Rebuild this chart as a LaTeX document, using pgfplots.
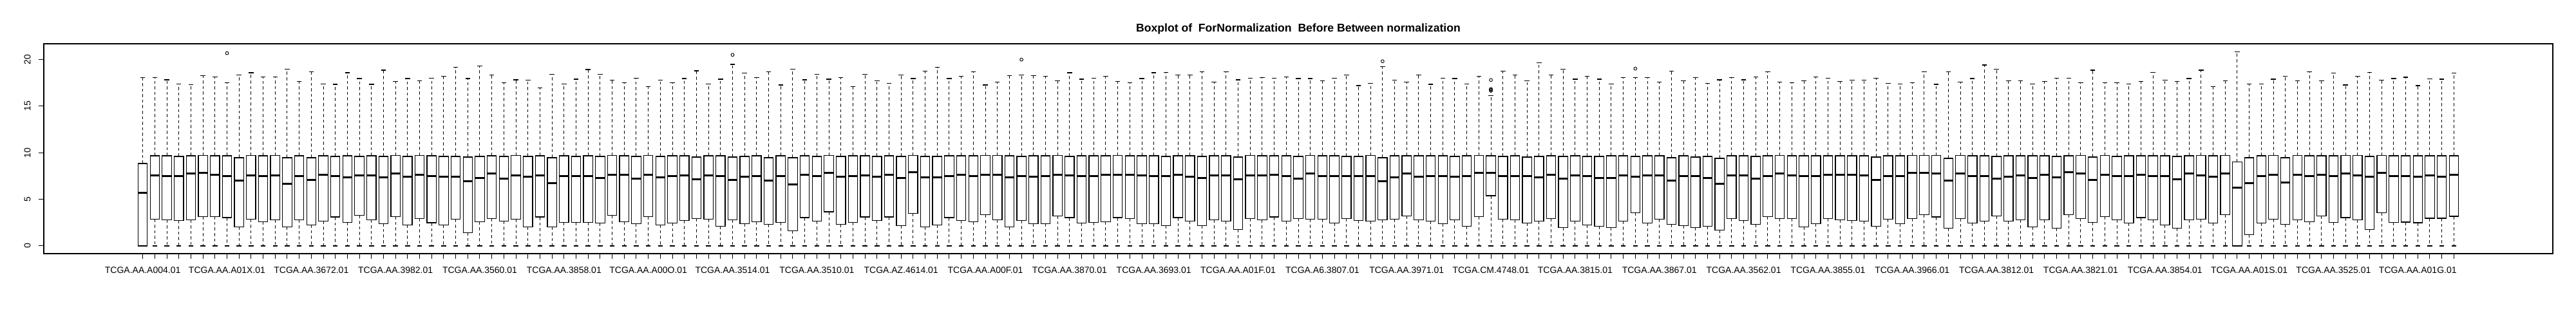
\documentclass[border=0pt]{standalone}
\usepackage{fontspec}
\setmainfont{Liberation Sans}
\usepackage{graphicx}
\usepackage{pgfplots}
\usepackage{pgfplotstable}
\pgfplotsset{compat=1.18}
\usepgfplotslibrary{statistics}

\pgfplotstableread{
k q1 med q3 uw lw
1 0 5.69 8.85 18.06 0
2 2.88 7.60 9.68 18.06 0
3 2.81 7.53 9.68 17.83 0
4 2.74 7.47 9.61 17.40 0
5 2.81 7.74 9.68 17.30 0
6 3.16 7.81 9.72 18.29 0
7 3.16 7.67 9.68 18.16 0
8 3.04 7.47 9.68 17.53 0
9 2.05 6.98 9.47 18.36 0
10 2.88 7.60 9.72 18.59 0
11 2.60 7.47 9.68 18.16 0
12 2.81 7.60 9.72 18.16 0
13 2.05 6.68 9.47 18.99 0
14 2.81 7.53 9.68 17.67 0
15 2.26 7.05 9.47 18.71 0
16 2.67 7.67 9.68 17.40 0
17 3.11 7.53 9.61 17.35 0
18 2.53 7.33 9.68 18.59 0
19 3.29 7.60 9.61 17.97 0
20 2.81 7.60 9.68 17.35 0
21 2.40 7.33 9.61 18.87 0
22 3.16 7.74 9.72 17.67 0
23 2.26 7.40 9.61 17.97 0
24 2.95 7.67 9.72 17.72 0
25 2.49 7.47 9.68 18.02 0
26 2.26 7.40 9.61 18.23 0
27 2.88 7.40 9.61 19.15 0
28 1.43 6.91 9.54 17.97 0
29 2.60 7.26 9.61 19.29 0
30 2.95 7.74 9.68 18.36 0
31 2.67 7.19 9.61 17.53 0
32 2.88 7.60 9.72 17.83 0
33 2.05 7.40 9.61 17.81 0
34 3.11 7.60 9.68 16.98 0
35 2.05 6.77 9.47 18.43 0
36 2.53 7.47 9.68 17.40 0
37 2.53 7.47 9.61 17.90 0
38 2.53 7.47 9.68 18.94 0
39 2.47 7.26 9.61 18.43 0
40 3.29 7.67 9.72 17.81 0
41 2.60 7.67 9.68 17.53 0
42 2.40 7.19 9.61 18.02 0
43 3.16 7.67 9.72 17.12 0
44 2.26 7.33 9.61 17.81 0
45 2.47 7.47 9.68 17.53 0
46 2.74 7.60 9.68 17.97 0
47 2.95 7.12 9.54 18.80 0
48 2.88 7.60 9.68 17.40 0
49 2.12 7.47 9.68 17.90 0
50 2.81 7.05 9.54 19.49 0
51 2.40 7.40 9.61 18.57 0
52 2.60 7.53 9.68 18.06 0
53 2.33 6.98 9.47 18.71 0
54 2.53 7.47 9.68 17.28 0
55 1.64 6.61 9.47 18.99 0
56 3.04 7.67 9.68 17.83 0
57 2.67 7.47 9.61 18.43 0
58 3.66 7.81 9.72 17.90 0
59 2.33 7.40 9.61 18.06 0
60 2.53 7.47 9.68 17.12 0
61 3.11 7.60 9.68 18.43 0
62 2.74 7.40 9.61 17.74 0
63 3.11 7.67 9.68 17.47 0
64 2.19 7.26 9.61 18.36 0
65 3.50 7.88 9.72 17.97 0
66 2.05 7.33 9.61 18.78 0
67 2.26 7.33 9.61 19.15 0
68 3.04 7.53 9.68 17.97 0
69 2.74 7.67 9.68 18.23 0
70 2.60 7.47 9.68 18.71 0
71 3.36 7.67 9.72 17.28 0
72 2.81 7.67 9.72 17.60 0
73 2.05 7.33 9.68 18.29 0
74 2.74 7.53 9.61 18.36 0
75 2.40 7.40 9.68 18.29 0
76 2.40 7.47 9.68 18.23 0
77 3.23 7.67 9.72 17.74 0
78 3.04 7.60 9.61 18.59 0
79 2.47 7.47 9.68 17.90 0
80 2.53 7.53 9.68 18.02 0
81 2.60 7.67 9.68 18.23 0
82 3.04 7.67 9.72 17.67 0
83 2.95 7.67 9.68 17.53 0
84 2.40 7.60 9.68 17.97 0
85 2.40 7.47 9.68 18.59 0
86 2.19 7.47 9.61 18.64 0
87 3.04 7.67 9.68 18.36 0
88 2.67 7.40 9.68 18.36 0
89 2.19 7.26 9.61 18.71 0
90 2.81 7.60 9.68 17.60 0
91 2.67 7.60 9.68 18.71 0
92 1.77 7.12 9.54 17.83 0
93 2.95 7.60 9.72 18.02 0
94 2.81 7.60 9.68 18.06 0
95 3.11 7.67 9.68 18.02 0
96 2.67 7.53 9.68 18.16 0
97 2.95 7.19 9.61 17.97 0
98 2.88 7.74 9.72 17.97 0
99 2.88 7.53 9.68 17.74 0
100 2.47 7.53 9.68 18.02 0
101 2.95 7.47 9.61 18.36 0
102 2.74 7.47 9.61 17.21 0
103 2.67 7.53 9.72 17.47 0
104 2.81 6.91 9.47 19.22 0
105 2.88 7.33 9.68 17.81 0
106 3.23 7.74 9.68 17.60 0
107 2.81 7.40 9.68 18.36 0
108 2.67 7.53 9.68 17.35 0
109 2.40 7.47 9.68 18.02 0
110 2.81 7.40 9.61 17.97 0
111 2.12 7.53 9.68 17.40 0
112 3.16 7.81 9.72 18.23 0
113 5.39 7.81 9.68 16.11 0
114 2.88 7.53 9.61 18.78 0
115 2.81 7.53 9.68 18.36 0
116 2.47 7.47 9.54 17.74 0
117 2.67 7.33 9.61 19.65 0
118 2.95 7.67 9.68 18.36 0
119 1.98 7.19 9.61 18.99 0
120 2.67 7.60 9.68 17.90 0
121 2.26 7.47 9.61 18.23 0
122 2.12 7.26 9.61 17.90 0
123 1.98 7.26 9.68 17.40 0
124 2.67 7.60 9.68 18.06 0
125 3.57 7.40 9.61 18.06 0
126 2.47 7.60 9.68 18.06 0
127 2.88 7.60 9.68 17.60 0
128 2.33 6.98 9.47 18.78 0
129 2.19 7.47 9.68 17.74 0
130 1.98 7.47 9.54 18.06 0
131 2.12 7.26 9.61 17.47 0
132 1.71 6.68 9.40 17.83 0
133 2.95 7.60 9.68 18.06 0
134 2.74 7.60 9.68 17.83 0
135 2.33 7.19 9.61 18.16 0
136 3.16 7.53 9.68 18.71 0
137 2.95 7.74 9.72 17.60 0
138 2.95 7.60 9.68 17.53 0
139 2.05 7.47 9.68 17.74 0
140 2.40 7.53 9.68 18.16 0
141 2.95 7.67 9.68 18.02 0
142 2.81 7.67 9.68 17.67 0
143 2.74 7.67 9.68 17.81 0
144 2.67 7.60 9.68 17.81 0
145 2.12 7.05 9.54 18.02 0
146 2.88 7.53 9.68 17.47 0
147 2.40 7.47 9.68 17.40 0
148 2.95 7.81 9.72 17.53 0
149 3.36 7.81 9.72 18.71 0
150 3.11 7.74 9.72 17.35 0
151 1.91 6.98 9.40 18.71 0
152 2.95 7.74 9.72 17.60 0
153 2.47 7.47 9.68 17.97 0
154 2.67 7.47 9.68 19.42 0
155 3.23 7.19 9.61 18.99 0
156 2.67 7.40 9.68 17.74 0
157 2.81 7.60 9.68 17.74 0
158 2.05 7.26 9.68 17.40 0
159 2.81 7.67 9.68 17.67 0
160 1.91 7.33 9.61 18.02 0
161 3.36 7.88 9.68 18.02 0
162 2.95 7.74 9.72 17.53 0
163 2.53 7.05 9.54 18.87 0
164 3.16 7.67 9.72 17.53 0
165 2.81 7.47 9.61 17.53 0
166 2.47 7.47 9.68 17.40 0
167 3.04 7.67 9.68 17.67 0
168 2.81 7.47 9.68 18.64 0
169 2.26 7.47 9.68 17.81 0
170 1.91 7.12 9.61 17.67 0
171 2.81 7.74 9.68 17.97 0
172 2.88 7.60 9.72 18.87 0
173 2.47 7.40 9.68 17.12 0
174 3.36 7.74 9.72 17.74 0
175 0 6.22 9.03 20.85 0
176 1.22 6.77 9.47 17.40 0
177 2.47 7.47 9.68 17.40 0
178 2.88 7.67 9.72 17.90 0
179 2.33 6.84 9.47 18.23 0
180 2.81 7.67 9.72 17.74 0
181 2.60 7.47 9.68 18.71 0
182 3.23 7.67 9.68 17.74 0
183 2.53 7.53 9.68 18.53 0
184 3.04 7.74 9.72 17.28 0
185 2.81 7.60 9.72 18.23 0
186 1.77 7.40 9.61 18.64 0
187 3.57 7.81 9.72 17.81 0
188 2.53 7.47 9.68 17.97 0
189 2.56 7.47 9.68 18.11 0
190 2.49 7.40 9.68 17.21 0
191 2.97 7.60 9.68 17.95 0
192 2.97 7.40 9.68 17.90 0
193 3.18 7.67 9.68 18.53 0
}\bxdata

\pgfplotstableread{
k v
8 20.69
50 20.51
74 20.00
104 19.82
113 17.81
113 16.85
113 16.75
113 16.65
125 19.03
}\outl

\pgfplotsset{
  bxp/.style={black, solid, mark=none,
    boxplot/draw direction=y,
    boxplot/box extend=0.77,
    boxplot/whisker extend=0,
    boxplot/every box/.style={draw=black, fill=white, line width=0.6pt},
    boxplot/every median/.style={draw=black, line width=1.5pt},
    boxplot/every whisker/.style={draw=black, line width=0.5pt, dash pattern=on 2.3pt off 2pt}},
}

\begin{document}
\begin{tikzpicture}
\path[use as bounding box] (0,0) rectangle (2000pt,240pt);
\begin{axis}[
  at={(34pt,43pt)}, anchor=south west,
  scale only axis, width=1948pt, height=163pt,
  xmin=-7.22, xmax=201.22, ymin=-0.83, ymax=21.7,
  axis line style={black, line width=0.65pt},
  tick pos=left, tick align=outside, major tick length=4pt,
  tick style={black, line width=0.5pt},
  /pgf/number format/assume math mode=true,
  xtick={1,...,193}, xticklabels={},
  extra x ticks={1,8,...,190},
  extra x tick labels={TCGA.AA.A004.01,TCGA.AA.A01X.01,TCGA.AA.3672.01,TCGA.AA.3982.01,TCGA.AA.3560.01,TCGA.AA.3858.01,TCGA.AA.A00O.01,TCGA.AA.3514.01,TCGA.AA.3510.01,TCGA.AZ.4614.01,TCGA.AA.A00F.01,TCGA.AA.3870.01,TCGA.AA.3693.01,TCGA.AA.A01F.01,TCGA.A6.3807.01,TCGA.AA.3971.01,TCGA.CM.4748.01,TCGA.AA.3815.01,TCGA.AA.3867.01,TCGA.AA.3562.01,TCGA.AA.3855.01,TCGA.AA.3966.01,TCGA.AA.3812.01,TCGA.AA.3821.01,TCGA.AA.3854.01,TCGA.AA.A01S.01,TCGA.AA.3525.01,TCGA.AA.A01G.01},
  xticklabel style={font=\fontsize{7}{8}\selectfont, inner sep=0pt, anchor=north, yshift=-6pt},
  ytick={0,5,10,15,20},
  yticklabel={\rotatebox{90}{\pgfmathprintnumber{\tick}}},
  yticklabel style={font=\fontsize{7}{8}\selectfont, inner sep=0pt, anchor=east, xshift=-6pt},
  title={Boxplot of~ ForNormalization~ Before Between normalization},
  title style={font=\bfseries\fontsize{8.8}{10}\selectfont, at={(0.5,1)}, anchor=center, yshift=5.5pt},
  clip=false,
]
\pgfplotsinvokeforeach{0,...,192}{
  \pgfplotstablegetelem{#1}{k}\of\bxdata\let\vk\pgfplotsretval
  \pgfplotstablegetelem{#1}{q1}\of\bxdata\let\va\pgfplotsretval
  \pgfplotstablegetelem{#1}{med}\of\bxdata\let\vb\pgfplotsretval
  \pgfplotstablegetelem{#1}{q3}\of\bxdata\let\vc\pgfplotsretval
  \pgfplotstablegetelem{#1}{uw}\of\bxdata\let\vd\pgfplotsretval
  \pgfplotstablegetelem{#1}{lw}\of\bxdata\let\ve\pgfplotsretval
  \edef\tmp{\noexpand\addplot[bxp, boxplot prepared={draw position=\vk, lower whisker=\ve, lower quartile=\va, median=\vb, upper quartile=\vc, upper whisker=\vd}] coordinates {};}
  \tmp
}
\addplot[only marks, mark=-, mark size=1.87pt, mark options={solid, black, line width=0.6pt}] table[x=k, y=uw] {\bxdata};
\addplot[only marks, mark=-, mark size=1.87pt, mark options={solid, black, line width=0.6pt}] table[x=k, y=lw] {\bxdata};
\addplot[only marks, mark=o, mark size=1.2pt, mark options={solid, black, line width=0.45pt}] table[x=k, y=v] {\outl};
\end{axis}
\end{tikzpicture}
\end{document}
